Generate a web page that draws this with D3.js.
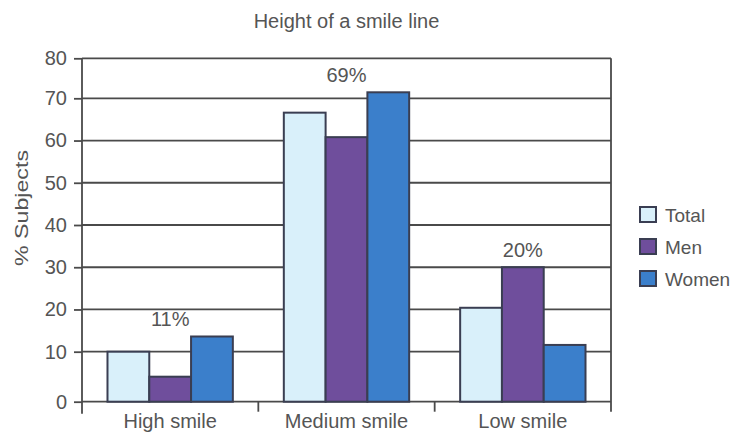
<!DOCTYPE html>
<html>
<head>
<meta charset="utf-8">
<script src="https://cdn.jsdelivr.net/npm/d3@7"></script>
<style>
  html, body { margin: 0; padding: 0; background: #fff; }
  svg { display: block; font-family: "Liberation Sans", Arial, Helvetica, sans-serif; }
</style>
</head>
<body>
<svg id="chart" width="734" height="432"></svg>
<script>
// Chart data
const categories = ["High smile", "Medium smile", "Low smile"];
const seriesNames = ["Total", "Men", "Women"];
const totalValues = [10, 66.6, 20.4];
const menValues = [5, 60.8, 30];
const womenValues = [13.6, 71.5, 11.6];
const groupLabels = ["11%", "69%", "20%"];
const yTicks = [0, 10, 20, 30, 40, 50, 60, 70, 80];
const title = "Height of a smile line";
const yTitle = "% Subjects";

const colors = { Total: "#d9f0fa", Men: "#6f4e9c", Women: "#3b7fcb" };
const seriesValues = { Total: totalValues, Men: menValues, Women: womenValues };

const svg = d3.select("#chart");
const plotLeft = 82, plotRight = 611, plotTop = 58.3, plotBottom = 401.7;
const textColor = "#555";
const lineColor = "#4a4a4a";
const fontSize = 20;

// Vertical scale: the first step (0-10) is drawn taller, the last (70-80) slightly shorter
const y = d3.scaleLinear().domain([0, 10, 70, 80]).range([plotBottom, 351.7, 98.3, plotTop]);
const x0 = d3.scaleBand().domain(categories).range([plotLeft, plotRight]).padding(0);
const x1 = d3.scaleBand().domain(seriesNames).range([0, x0.bandwidth()])
  .paddingInner(0).paddingOuter(0.61);

// Title
svg.append("text")
  .attr("x", (plotLeft + plotRight) / 2).attr("y", 28)
  .attr("text-anchor", "middle")
  .attr("font-size", fontSize).attr("fill", textColor)
  .text(title);

// Horizontal gridlines
svg.append("g").selectAll("line").data(yTicks).join("line")
  .attr("x1", plotLeft).attr("x2", plotRight)
  .attr("y1", d => y(d)).attr("y2", d => y(d))
  .attr("stroke", lineColor).attr("stroke-width", 1.8);

// Right frame edge
svg.append("line")
  .attr("x1", plotRight).attr("x2", plotRight).attr("y1", plotTop).attr("y2", plotBottom + 10)
  .attr("stroke", lineColor).attr("stroke-width", 1.8);

// Left axis with outer ticks
const yAxis = svg.append("g")
  .attr("transform", `translate(${plotLeft},0)`)
  .call(d3.axisLeft(y).tickValues(yTicks).tickSize(8).tickPadding(7).tickSizeOuter(0));
yAxis.select(".domain").remove();
yAxis.selectAll(".tick line").attr("stroke", lineColor).attr("stroke-width", 1.8);
yAxis.selectAll(".tick text")
  .attr("font-size", fontSize).attr("fill", textColor)
  .attr("font-family", "Liberation Sans, Arial, sans-serif");
svg.append("line")
  .attr("x1", plotLeft).attr("x2", plotLeft).attr("y1", plotTop).attr("y2", plotBottom + 12)
  .attr("stroke", lineColor).attr("stroke-width", 1.8);

// Bottom axis: category dividers as ticks below the baseline
const boundaries = categories.map(c => x0(c)).concat([plotRight]);
svg.append("g").selectAll("line").data(boundaries.slice(1, -1)).join("line")
  .attr("x1", d => d).attr("x2", d => d)
  .attr("y1", plotBottom).attr("y2", plotBottom + 10)
  .attr("stroke", lineColor).attr("stroke-width", 1.8);

svg.append("g").selectAll("text").data(categories).join("text")
  .attr("x", d => x0(d) + x0.bandwidth() / 2)
  .attr("y", 428)
  .attr("text-anchor", "middle")
  .attr("font-size", fontSize).attr("fill", textColor)
  .text(d => d);

// Y axis title
svg.append("text")
  .attr("transform", "translate(28,208) rotate(-90)")
  .attr("text-anchor", "middle")
  .attr("font-size", 19).attr("fill", textColor)
  .attr("textLength", 116).attr("lengthAdjust", "spacingAndGlyphs")
  .text(yTitle);

// Bars
const groups = svg.append("g").selectAll("g").data(categories).join("g")
  .attr("transform", d => `translate(${x0(d)},0)`);

groups.selectAll("rect")
  .data((c, i) => seriesNames.map(s => ({ s, v: seriesValues[s][i] })))
  .join("rect")
  .attr("x", d => x1(d.s))
  .attr("width", x1.bandwidth())
  .attr("y", d => y(d.v))
  .attr("height", d => y(0) - y(d.v))
  .attr("fill", d => colors[d.s])
  .attr("stroke", "#3a3e52").attr("stroke-width", 2);

// Group percentage labels above the tallest bar of each group
svg.append("g").selectAll("text").data(categories).join("text")
  .attr("x", d => x0(d) + x0.bandwidth() / 2)
  .attr("y", (d, i) => y(d3.max(seriesNames, s => seriesValues[s][i])) - 10)
  .attr("text-anchor", "middle")
  .attr("font-size", fontSize).attr("fill", textColor)
  .text((d, i) => groupLabels[i]);

// Legend
const legend = svg.append("g").attr("transform", "translate(640,207)");
const items = legend.selectAll("g").data(seriesNames).join("g")
  .attr("transform", (d, i) => `translate(0,${i * 32})`);
items.append("rect")
  .attr("width", 16).attr("height", 15)
  .attr("fill", d => colors[d])
  .attr("stroke", "#3a3e52").attr("stroke-width", 2);
items.append("text")
  .attr("x", 25).attr("y", 14.5)
  .attr("font-size", 19).attr("fill", textColor)
  .text(d => d);
</script>
</body>
</html>
